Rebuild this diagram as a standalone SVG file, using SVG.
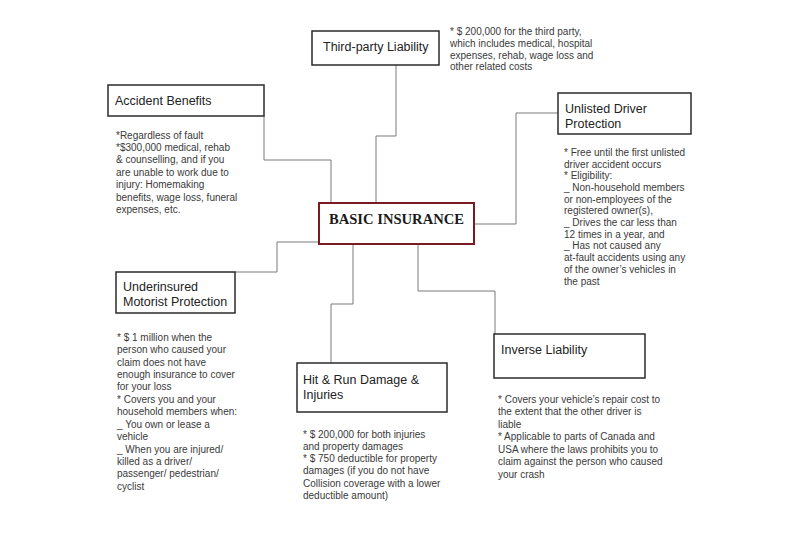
<svg xmlns="http://www.w3.org/2000/svg" width="800" height="537" viewBox="0 0 800 537">
<style>
.box{fill:#fff;stroke:#2b2b2b;stroke-width:1.5}
.main{fill:#fff;stroke:#7a1a22;stroke-width:2}
.title{font-family:"Liberation Sans",Arial,sans-serif;font-size:12.5px;fill:#222}
.note{font-family:"Liberation Sans",Arial,sans-serif;font-size:10px;fill:#3a3a3a}
.mainText{font-family:"Liberation Serif","Times New Roman",serif;font-size:14.6px;font-weight:bold;fill:#1a1a1a}
.conn{fill:none;stroke:#7a7a7a;stroke-width:1}
</style>
<rect width="800" height="537" fill="#fff"/>
<g id="connectors">
<polyline class="conn" points="264,116 264,160 331,160 331,203"/>
<polyline class="conn" points="396,65 396,136 376,136 376,203"/>
<polyline class="conn" points="558,113 516,113 516,224 474,224"/>
<polyline class="conn" points="319,242 277,242 277,272 235,272"/>
<polyline class="conn" points="353,244 353,304 331,304 331,363"/>
<polyline class="conn" points="418,244 418,291 495,291 495,334"/>
</g>
<g id="basic-insurance">
<rect class="main" x="319" y="203" width="155" height="41"/>
<text class="mainText" x="396.5" y="224" text-anchor="middle">BASIC INSURANCE</text>
</g>
<g id="third-party-liability">
<rect class="box" x="312" y="31" width="127" height="34"/>
<text class="title" x="323" y="51">Third-party Liability</text>
<text class="note" x="450" y="35.2"><tspan x="450">* $ 200,000 for the third party,</tspan><tspan x="450" dy="11.7">which includes medical, hospital</tspan><tspan x="450" dy="11.7">expenses, rehab, wage loss and</tspan><tspan x="450" dy="11.7">other related costs</tspan></text>
</g>
<g id="accident-benefits">
<rect class="box" x="108" y="85" width="156" height="31"/>
<text class="title" x="115" y="104.5">Accident Benefits</text>
<text class="note" x="116" y="138.5"><tspan x="116">*Regardless of fault</tspan><tspan x="116" dy="12.4">*$300,000 medical, rehab</tspan><tspan x="116" dy="12.4">&amp; counselling, and if you</tspan><tspan x="116" dy="12.4">are unable to work due to</tspan><tspan x="116" dy="12.4">injury: Homemaking</tspan><tspan x="116" dy="12.4">benefits, wage loss, funeral</tspan><tspan x="116" dy="12.4">expenses, etc.</tspan></text>
</g>
<g id="unlisted-driver-protection">
<rect class="box" x="558" y="93" width="133" height="41"/>
<text class="title" x="565" y="112.5"><tspan x="565">Unlisted Driver</tspan><tspan x="565" dy="15">Protection</tspan></text>
<text class="note" x="564" y="155.8"><tspan x="564">* Free until the first unlisted</tspan><tspan x="564" dy="11.7">driver accident occurs</tspan><tspan x="564" dy="11.7">* Eligibility:</tspan><tspan x="564" dy="11.7">_ Non-household members</tspan><tspan x="564" dy="11.7">or non-employees of the</tspan><tspan x="564" dy="11.7">registered owner(s),</tspan><tspan x="564" dy="11.7">_ Drives the car less than</tspan><tspan x="564" dy="11.7">12 times in a year, and</tspan><tspan x="564" dy="11.7">_ Has not caused any</tspan><tspan x="564" dy="11.7">at-fault accidents using any</tspan><tspan x="564" dy="11.7">of the owner’s vehicles in</tspan><tspan x="564" dy="11.7">the past</tspan></text>
</g>
<g id="underinsured-motorist-protection">
<rect class="box" x="116" y="272" width="119" height="41"/>
<text class="title" x="123" y="291"><tspan x="123">Underinsured</tspan><tspan x="123" dy="15">Motorist Protection</tspan></text>
<text class="note" x="117" y="340.8"><tspan x="117">* $ 1 million when the</tspan><tspan x="117" dy="12.42">person who caused your</tspan><tspan x="117" dy="12.42">claim does not have</tspan><tspan x="117" dy="12.42">enough insurance to cover</tspan><tspan x="117" dy="12.42">for your loss</tspan><tspan x="117" dy="12.42">* Covers you and your</tspan><tspan x="117" dy="12.42">household members when:</tspan><tspan x="117" dy="12.42">_ You own or lease a</tspan><tspan x="117" dy="12.42">vehicle</tspan><tspan x="117" dy="12.42">_ When you are injured/</tspan><tspan x="117" dy="12.42">killed as a driver/</tspan><tspan x="117" dy="12.42">passenger/ pedestrian/</tspan><tspan x="117" dy="12.42">cyclist</tspan></text>
</g>
<g id="hit-and-run">
<rect class="box" x="297" y="363" width="150" height="49"/>
<text class="title" x="303" y="383.5"><tspan x="303">Hit &amp; Run Damage &amp;</tspan><tspan x="303" dy="15">Injuries</tspan></text>
<text class="note" x="303" y="437.5"><tspan x="303">* $ 200,000 for both injuries</tspan><tspan x="303" dy="12.33">and property damages</tspan><tspan x="303" dy="12.33">* $ 750 deductible for property</tspan><tspan x="303" dy="12.33">damages (if you do not have</tspan><tspan x="303" dy="12.33">Collision coverage with a lower</tspan><tspan x="303" dy="12.33">deductible amount)</tspan></text>
</g>
<g id="inverse-liability">
<rect class="box" x="494" y="334" width="151" height="44"/>
<text class="title" x="501" y="353.5">Inverse Liability</text>
<text class="note" x="498" y="402.5"><tspan x="498">* Covers your vehicle’s repair cost to</tspan><tspan x="498" dy="12.5">the extent that the other driver is</tspan><tspan x="498" dy="12.5">liable</tspan><tspan x="498" dy="12.5">* Applicable to parts of Canada and</tspan><tspan x="498" dy="12.5">USA where the laws prohibits you to</tspan><tspan x="498" dy="12.5">claim against the person who caused</tspan><tspan x="498" dy="12.5">your crash</tspan></text>
</g>
</svg>
